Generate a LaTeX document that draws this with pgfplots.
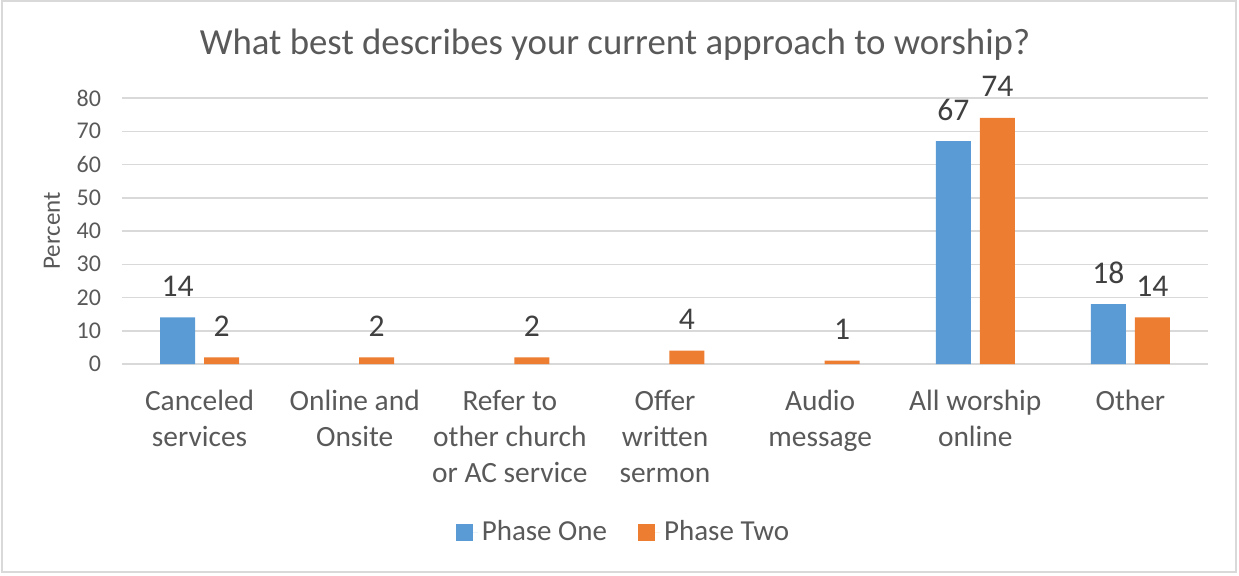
\documentclass[border=0pt]{standalone}
\usepackage{pgfplots}
\pgfplotsset{compat=1.18}
\usepackage{fontspec}
\setmainfont{Carlito}

\definecolor{phaseone}{HTML}{5B9BD5}
\definecolor{phasetwo}{HTML}{ED7D31}
\definecolor{txt}{HTML}{595959}
\definecolor{lbl}{HTML}{404040}
\definecolor{gridgray}{HTML}{D9D9D9}

\begin{document}
\begin{tikzpicture}
  % page frame
  \path[use as bounding box] (0,0) rectangle (619.5pt,287.5pt);
  \draw[gridgray, line width=0.75pt] (1pt,1.5pt) rectangle (618pt,287pt);

  \begin{axis}[
    at={(61pt,105.5pt)}, anchor=south west,
    scale only axis, width=543pt, height=133pt,
    ybar, bar width=17.5pt,
    xmin=-0.5, xmax=6.5,
    ymin=0, ymax=80, ytick={0,10,...,80},
    xtick={0,...,6},
    xticklabels={Canceled\\services, Online and\\Onsite, Refer to\\other church\\or AC service, Offer\\written\\sermon, Audio\\message, All worship\\online, Other},
    major tick length=0pt,
    axis line style={draw=none},
    ymajorgrids, grid style={gridgray, line width=0.75pt},
    /pgf/number format/assume math mode=true,
    yticklabel style={font=\fontsize{12}{14}\selectfont, text=txt, xshift=-7pt},
    xticklabel style={font=\fontsize{14.7}{18}\selectfont, text=txt, align=center, anchor=north, yshift=-9.5pt},
    ylabel={Percent},
    ylabel style={font=\fontsize{12.5}{15}\selectfont, text=txt, at={(axis description cs:-0.0645,0.5)}, anchor=center},
    nodes near coords,
    every node near coord/.append style={font=\fontsize{15.8}{19}\selectfont, text=lbl, anchor=base, yshift=10.5pt},
    legend style={draw=none, at={(axis description cs:0.4627,-0.632)}, anchor=center,
      legend columns=2, font=\fontsize{14.5}{17}\selectfont, text=txt,
      /tikz/every even column/.append style={column sep=13.5pt}},
    legend image code/.code={%
      \fill[#1] (0pt,-4.25pt) rectangle (8.5pt,4.25pt);
      \path (0pt,0pt) -- (11pt,0pt);},
  ]
    % Phase One: only categories with a response
    \addplot[fill=phaseone, draw=none, bar shift=-11pt] coordinates {(0,14) (5,67) (6,18)};
    % Phase Two
    \addplot[fill=phasetwo, draw=none, bar shift=11pt] coordinates {(0,2) (1,2) (2,2) (3,4) (4,1) (5,74) (6,14)};
    \legend{Phase One, Phase Two}
  \end{axis}

  \node[anchor=base, font=\fontsize{18.4}{22}\selectfont, text=txt] at (307.5pt,260.5pt)
    {What best describes your current approach to worship?};
\end{tikzpicture}
\end{document}
